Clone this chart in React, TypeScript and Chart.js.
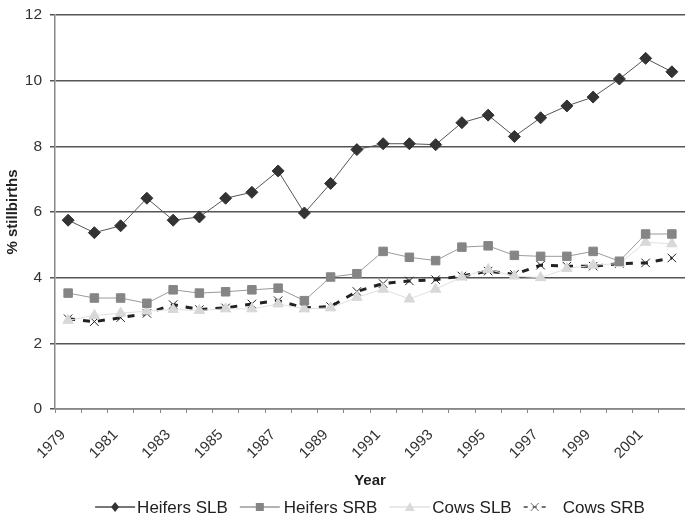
import React, { useEffect, useRef } from "react";
import { Chart, registerables } from "chart.js";

Chart.register(...registerables);

const years = [
  "1979", "1980", "1981", "1982", "1983", "1984", "1985", "1986", "1987", "1988", "1989", "1990",
  "1991", "1992", "1993", "1994", "1995", "1996", "1997", "1998", "1999", "2000", "2001", "2002",
];

const heifersSLB = [5.75, 5.37, 5.58, 6.42, 5.75, 5.85, 6.42, 6.6, 7.25, 5.97, 6.87, 7.9,
  8.08, 8.08, 8.05, 8.72, 8.95, 8.3, 8.87, 9.23, 9.5, 10.05, 10.68, 10.27];
const heifersSRB = [3.53, 3.38, 3.38, 3.22, 3.63, 3.53, 3.57, 3.63, 3.68, 3.3, 4.02, 4.12,
  4.8, 4.62, 4.52, 4.93, 4.97, 4.68, 4.65, 4.65, 4.8, 4.5, 5.33, 5.33];
const cowsSLB = [2.7, 2.85, 2.92, 2.98, 3.03, 3.0, 3.05, 3.05, 3.2, 3.05, 3.08, 3.4,
  3.65, 3.35, 3.65, 4.02, 4.25, 4.05, 4.0, 4.28, 4.38, 4.43, 5.08, 5.03];
const cowsSRB = [2.75, 2.66, 2.78, 2.91, 3.18, 3.03, 3.08, 3.2, 3.3, 3.08, 3.12, 3.58,
  3.82, 3.9, 3.94, 4.05, 4.2, 4.1, 4.38, 4.35, 4.35, 4.43, 4.45, 4.6];

const yTicks = [0, 2, 4, 6, 8, 10, 12];

const FONT = "'Liberation Sans', Arial, sans-serif";

type LegendSpec = {
  text: string;
  line: string;
  marker: string;
  kind: string;
  dash: number[];
  lw: number;
  symW: number;
  gap: number;
};

const legendSpecs: LegendSpec[] = [
  { text: "Heifers SLB", line: "#4a4a4a", marker: "#333333", kind: "diamond", dash: [], lw: 1.5, symW: 40, gap: 2 },
  { text: "Heifers SRB", line: "#9a9a9a", marker: "#858585", kind: "square", dash: [], lw: 1.5, symW: 40, gap: 4 },
  { text: "Cows SLB", line: "#e2e2e2", marker: "#dadada", kind: "triangle", dash: [], lw: 1.5, symW: 41, gap: 2 },
  { text: "Cows SRB", line: "#444444", marker: "#666666", kind: "cross", dash: [4, 5], lw: 1.5, symW: 22, gap: 17 },
];

const legendPlugin = {
  id: "customLegend",
  afterDraw(chart: any) {
    const ctx = chart.ctx as CanvasRenderingContext2D;
    const area = chart.chartArea;
    ctx.save();
    ctx.font = `17px ${FONT}`;
    const itemGap = 12;
    const widths = legendSpecs.map((s) => s.symW + s.gap + ctx.measureText(s.text).width);
    const total = widths.reduce((a, b) => a + b, 0) + itemGap * (legendSpecs.length - 1);
    let x = (area.left + area.right) / 2 - total / 2;
    const y = chart.height - 7;
    legendSpecs.forEach((s, i) => {
      ctx.strokeStyle = s.line;
      ctx.lineWidth = s.lw;
      ctx.setLineDash(s.dash);
      ctx.beginPath();
      ctx.moveTo(x, y);
      ctx.lineTo(x + s.symW, y);
      ctx.stroke();
      ctx.setLineDash([]);
      const cx = x + s.symW / 2;
      ctx.fillStyle = s.marker;
      ctx.strokeStyle = s.marker;
      if (s.kind === "diamond") {
        ctx.beginPath();
        ctx.moveTo(cx, y - 5);
        ctx.lineTo(cx + 4, y);
        ctx.lineTo(cx, y + 5);
        ctx.lineTo(cx - 4, y);
        ctx.closePath();
        ctx.fill();
      } else if (s.kind === "square") {
        ctx.fillRect(cx - 4, y - 4, 8, 8);
      } else if (s.kind === "triangle") {
        ctx.beginPath();
        ctx.moveTo(cx, y - 5);
        ctx.lineTo(cx + 5, y + 4);
        ctx.lineTo(cx - 5, y + 4);
        ctx.closePath();
        ctx.fill();
      } else if (s.kind === "cross") {
        ctx.lineWidth = 1;
        ctx.beginPath();
        ctx.moveTo(cx - 4, y - 4);
        ctx.lineTo(cx + 4, y + 4);
        ctx.moveTo(cx + 4, y - 4);
        ctx.lineTo(cx - 4, y + 4);
        ctx.stroke();
      }
      ctx.fillStyle = "#222";
      ctx.textAlign = "left";
      ctx.textBaseline = "middle";
      ctx.fillText(s.text, x + s.symW + s.gap, y + 1);
      x += widths[i] + itemGap;
    });
    ctx.restore();
  },
};

export default function App() {
  const ref = useRef<HTMLCanvasElement | null>(null);

  useEffect(() => {
    if (!ref.current) return;
    const chart = new Chart(ref.current, {
      type: "line",
      plugins: [legendPlugin],
      data: {
        labels: years,
        datasets: [
          {
            label: "Heifers SLB",
            data: heifersSLB,
            borderColor: "#555555",
            borderWidth: 1,
            backgroundColor: "#333333",
            pointBackgroundColor: "#333333",
            pointBorderColor: "#333333",
            pointStyle: "rectRot",
            pointRadius: 6,
            tension: 0,
          },
          {
            label: "Heifers SRB",
            data: heifersSRB,
            borderColor: "#9a9a9a",
            borderWidth: 1,
            backgroundColor: "#858585",
            pointBackgroundColor: "#858585",
            pointBorderColor: "#858585",
            pointStyle: "rect",
            pointRadius: 6,
            tension: 0,
          },
          {
            label: "Cows SLB",
            data: cowsSLB,
            borderColor: "#e0e0e0",
            borderWidth: 1,
            backgroundColor: "#d8d8d8",
            pointBackgroundColor: "#d8d8d8",
            pointBorderColor: "#d8d8d8",
            pointStyle: "triangle",
            pointRadius: 6,
            tension: 0,
          },
          {
            label: "Cows SRB",
            data: cowsSRB,
            borderColor: "#222222",
            borderWidth: 3,
            borderDash: [7, 8],
            backgroundColor: "#222222",
            pointBackgroundColor: "#222222",
            pointBorderColor: "#222222",
            pointBorderWidth: 1,
            pointStyle: "crossRot",
            pointRadius: 6,
            tension: 0,
          },
        ],
      },
      options: {
        animation: false,
        responsive: true,
        maintainAspectRatio: false,
        layout: { autoPadding: false, padding: { left: 0, right: 0, top: 0, bottom: 22 } },
        plugins: {
          tooltip: { enabled: false },
          legend: { display: false },
        },
        scales: {
          x: {
            offset: true,
            afterFit: (scale: any) => {
              scale.paddingLeft = 0;
              scale.paddingRight = 0;
              scale.height = 83;
            },
            grid: {
              display: true,
              drawOnChartArea: false,
              drawTicks: true,
              tickLength: 4,
              color: "#888",
              offset: true,
            },
            border: { display: true, color: "#888", width: 1.5 },
            ticks: {
              autoSkip: false,
              maxRotation: 45,
              minRotation: 45,
              color: "#333",
              font: { family: FONT, size: 15 },
              padding: 13,
              labelOffset: -5,
              callback: (_v: any, i: number) => (i % 2 === 0 ? years[i] : ""),
            },
            title: {
              display: true,
              text: "Year",
              color: "#222",
              font: { family: FONT, size: 15, weight: "bold" },
              padding: { top: 0, bottom: 2 },
            },
          },
          y: {
            min: 0,
            max: 12,
            afterBuildTicks: (axis: any) => {
              axis.ticks = yTicks.map((v) => ({ value: v }));
            },
            afterFit: (scale: any) => {
              scale.width = 55;
              scale.paddingTop = 15;
              scale.paddingBottom = 0;
            },
            grid: {
              color: "#555",
              lineWidth: 1.5,
              drawTicks: true,
              tickLength: 5,
            },
            border: { display: true, color: "#888", width: 1.5 },
            ticks: {
              color: "#333",
              font: { family: FONT, size: 15.5 },
              padding: 8,
            },
            title: {
              display: true,
              text: "% stillbirths",
              color: "#222",
              font: { family: FONT, size: 15, weight: "bold" },
              padding: { top: 4, bottom: 3 },
            },
          },
        },
      },
    });
    return () => chart.destroy();
  }, []);

  return (
    <div style={{ position: "absolute", left: 0, top: 0, width: 685, height: 514, background: "#fff" }}>
      <canvas ref={ref} />
    </div>
  );
}
